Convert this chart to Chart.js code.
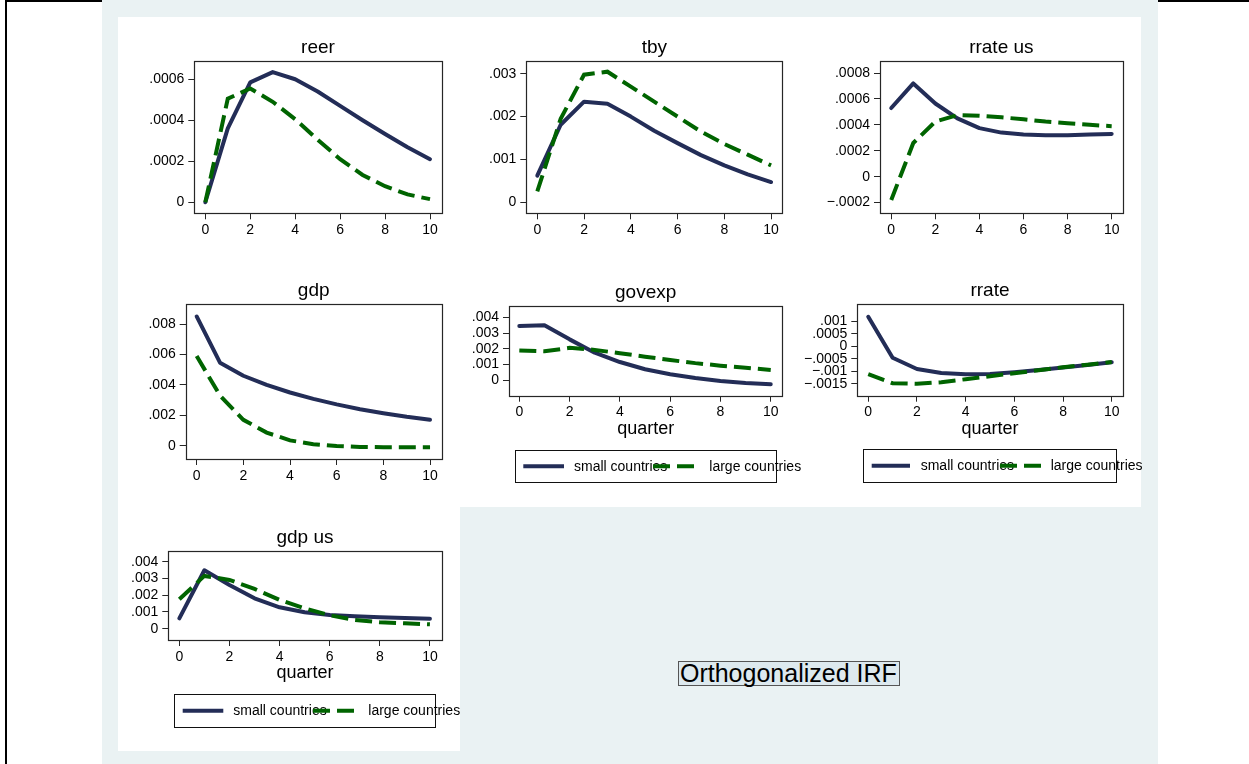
<!DOCTYPE html>
<html>
<head>
<meta charset="utf-8">
<script src="https://cdn.jsdelivr.net/npm/chart.js@4/dist/chart.umd.min.js"></script>
<style>
  html, body { margin: 0; padding: 0; background: #ffffff; }
  #root { position: relative; width: 1249px; height: 764px; overflow: hidden; background: #ffffff;
          font-family: "Liberation Sans", Arial, Helvetica, sans-serif; }
  .abs { position: absolute; }
  #note { position: absolute; left: 678px; top: 661px; width: 222px; height: 25px; box-sizing: border-box;
          border: 1px solid #555; background: #dde9ee; color: #000; font-size: 25px; line-height: 23px;
          padding-left: 1px; white-space: nowrap; }
</style>
</head>
<body>
<div id="root">
  <div class="abs" style="left:5px;top:0;width:1300px;height:800px;border-left:2px solid #000;border-top:2px solid #000;"></div>
  <div class="abs" style="left:102px;top:0;width:1056px;height:764px;background:#eaf2f3;"></div>
  <div class="abs" style="left:118px;top:17px;width:1023px;height:490px;background:#ffffff;"></div>
  <div class="abs" style="left:118px;top:507px;width:342px;height:244px;background:#ffffff;"></div>
  <div id="note"></div>
</div>
<script>
// ---------------- data ----------------
const quarters = [0, 1, 2, 3, 4, 5, 6, 7, 8, 9, 10];
const seriesNames = ['small countries', 'large countries'];
const panelTitles = ['reer', 'tby', 'rrate us', 'gdp', 'govexp', 'rrate', 'gdp us'];
const xAxisTitle = 'quarter';
const noteText = 'Orthogonalized IRF';

const xTickValues = [0, 2, 4, 6, 8, 10];
const xTickLabels = ['0', '2', '4', '6', '8', '10'];

const reerSmall = [0, 0.00036, 0.000585, 0.000635, 0.0006, 0.00054, 0.00047, 0.0004, 0.000333, 0.000268, 0.00021];
const reerLarge = [0, 0.000505, 0.000555, 0.00049, 0.000405, 0.000305, 0.00021, 0.000133, 0.000078, 0.000038, 0.000015];
const reerTicks = [0, 0.0002, 0.0004, 0.0006];
const reerTickLabels = ['0', '.0002', '.0004', '.0006'];

const tbySmall = [0.00062, 0.00181, 0.00235, 0.0023, 0.002, 0.00167, 0.00138, 0.0011, 0.00086, 0.00065, 0.00047];
const tbyLarge = [0.00025, 0.00195, 0.00298, 0.00305, 0.0027, 0.00235, 0.002, 0.00165, 0.00136, 0.00111, 0.00086];
const tbyTicks = [0, 0.001, 0.002, 0.003];
const tbyTickLabels = ['0', '.001', '.002', '.003'];

const rrateUsSmall = [0.00053, 0.00072, 0.000565, 0.00045, 0.000375, 0.00034, 0.000325, 0.00032, 0.00032, 0.000325, 0.00033];
const rrateUsLarge = [-0.00018, 0.00026, 0.000425, 0.000475, 0.00047, 0.000458, 0.000443, 0.000425, 0.000412, 0.0004, 0.00039];
const rrateUsTicks = [-0.0002, 0, 0.0002, 0.0004, 0.0006, 0.0008];
const rrateUsTickLabels = ['\u2212.0002', '0', '.0002', '.0004', '.0006', '.0008'];

const gdpSmall = [0.0085, 0.00546, 0.0046, 0.004, 0.0035, 0.00308, 0.00272, 0.0024, 0.00214, 0.0019, 0.0017];
const gdpLarge = [0.0059, 0.0033, 0.0017, 0.00086, 0.00035, 0.0001, -0.00002, -0.00008, -0.0001, -0.0001, -0.0001];
const gdpTicks = [0, 0.002, 0.004, 0.006, 0.008];
const gdpTickLabels = ['0', '.002', '.004', '.006', '.008'];

const govexpSmall = [0.00345, 0.0035, 0.0026, 0.00175, 0.00116, 0.0007, 0.00038, 0.00014, -0.00004, -0.00017, -0.00025];
const govexpLarge = [0.0019, 0.00184, 0.00206, 0.00193, 0.00172, 0.0015, 0.00129, 0.00109, 0.00093, 0.0008, 0.00066];
const govexpTicks = [0, 0.001, 0.002, 0.003, 0.004];
const govexpTickLabels = ['0', '.001', '.002', '.003', '.004'];

const rrateSmall = [0.00118, -0.00046, -0.00091, -0.00107, -0.00112, -0.00111, -0.00104, -0.00095, -0.00085, -0.00075, -0.00064];
const rrateLarge = [-0.00112, -0.00148, -0.0015, -0.00144, -0.00132, -0.0012, -0.00108, -0.00096, -0.00084, -0.00074, -0.00063];
const rrateTicks = [-0.0015, -0.001, -0.0005, 0, 0.0005, 0.001];
const rrateTickLabels = ['\u2212.0015', '\u2212.001', '\u2212.0005', '0', '.0005', '.001'];

const gdpUsSmall = [0.00062, 0.0035, 0.00262, 0.00182, 0.00128, 0.00098, 0.00082, 0.00074, 0.00068, 0.00064, 0.0006];
const gdpUsLarge = [0.00176, 0.00316, 0.00292, 0.00238, 0.00172, 0.00122, 0.0008, 0.00052, 0.00038, 0.00032, 0.00026];
const gdpUsTicks = [0, 0.001, 0.002, 0.003, 0.004];
const gdpUsTickLabels = ['0', '.001', '.002', '.003', '.004'];

// ---------------- styles / layout ----------------
const NAVY = '#232d57';
const GREEN = '#006400';
const FRAME = '#262626';
const FONT = '"Liberation Sans", Arial, Helvetica, sans-serif';
Chart.defaults.font.family = FONT;
Chart.defaults.color = '#000';

document.getElementById('note').textContent = noteText;

// cell: [x, y, w, h] ; box: plot region [l, t, r, b] in page coords
const layouts = [
  { cell: [118, 17, 341, 245], box: [194.3, 61, 441.7, 213.3], xr: [-0.49, 10.52], yr: [-0.000054, 0.000689] },
  { cell: [459, 17, 341, 245], box: [526.3, 61, 782.3, 213.3], xr: [-0.47, 10.48], yr: [-0.00026, 0.0033] },
  { cell: [800, 17, 341, 245], box: [880, 61, 1122.7, 213.3], xr: [-0.51, 10.5], yr: [-0.000283, 0.000893] },
  { cell: [118, 262, 341, 245], box: [185.7, 304.3, 441.7, 459], xr: [-0.47, 10.5], yr: [-0.000875, 0.0093] },
  { cell: [459, 262, 341, 245], box: [509, 306, 782.3, 395.7], xr: [-0.41, 10.46], yr: [-0.00098, 0.00472],
    xTitle: true, legend: { rect: [515, 450, 260.7, 32.3], s1: [523.3, 564], t1: 574, s2: [653, 697], t2: 709.3 } },
  { cell: [800, 262, 341, 245], box: [857.3, 304.3, 1122.7, 395.7], xr: [-0.45, 10.45], yr: [-0.00198, 0.00168],
    xTitle: true, legend: { rect: [863.3, 449, 252.7, 33.3], s1: [871.7, 910], t1: 920.7, s2: [1000, 1043], t2: 1050.7 } },
  { cell: [118, 507, 341, 244], box: [168.3, 550.7, 441.7, 640], xr: [-0.44, 10.47], yr: [-0.00068, 0.00467],
    xTitle: true, legend: { rect: [174.3, 694.3, 260.7, 33], s1: [182.7, 223.3], t1: 233.3, s2: [313, 356], t2: 368.3 } }
];

const panelSeries = [
  [reerSmall, reerLarge, reerTicks, reerTickLabels],
  [tbySmall, tbyLarge, tbyTicks, tbyTickLabels],
  [rrateUsSmall, rrateUsLarge, rrateUsTicks, rrateUsTickLabels],
  [gdpSmall, gdpLarge, gdpTicks, gdpTickLabels],
  [govexpSmall, govexpLarge, govexpTicks, govexpTickLabels],
  [rrateSmall, rrateLarge, rrateTicks, rrateTickLabels],
  [gdpUsSmall, gdpUsLarge, gdpUsTicks, gdpUsTickLabels]
];

const stataDecor = {
  id: 'stataDecor',
  afterDraw(chart, args, opts) {
    const ctx = chart.ctx;
    const a = chart.chartArea;
    ctx.save();
    // plot region frame
    ctx.strokeStyle = FRAME;
    ctx.lineWidth = 1.2;
    ctx.strokeRect(Math.round(a.left) + 0.5, Math.round(a.top) + 0.5,
                   Math.round(a.right) - Math.round(a.left), Math.round(a.bottom) - Math.round(a.top));
    // title
    const cxm = (a.left + a.right) / 2;
    ctx.fillStyle = '#000';
    ctx.textAlign = 'center';
    ctx.textBaseline = 'alphabetic';
    ctx.font = '19px ' + FONT;
    ctx.fillText(opts.title, cxm, a.top - 8);
    // x axis title
    if (opts.xTitle) {
      ctx.font = '18px ' + FONT;
      ctx.fillText(opts.xTitle, cxm, a.bottom + 38);
    }
    // legend
    const lg = opts.legend;
    if (lg) {
      const ox = opts.origin[0], oy = opts.origin[1];
      const [lx, ly, lw, lh] = lg.rect;
      ctx.fillStyle = '#ffffff';
      ctx.fillRect(lx - ox, ly - oy, lw, lh);
      ctx.strokeStyle = '#111';
      ctx.lineWidth = 1;
      ctx.strokeRect(Math.round(lx - ox) + 0.5, Math.round(ly - oy) + 0.5, Math.round(lw), Math.round(lh));
      const cy = ly - oy + lh / 2;
      const ds = chart.data.datasets;
      const items = [[lg.s1, lg.t1, ds[0]], [lg.s2, lg.t2, ds[1]]];
      ctx.font = '14px ' + FONT;
      ctx.textAlign = 'left';
      ctx.textBaseline = 'middle';
      items.forEach(([s, t, d]) => {
        ctx.beginPath();
        ctx.strokeStyle = d.borderColor;
        ctx.lineWidth = d.borderWidth;
        ctx.lineCap = 'butt';
        ctx.setLineDash(d.borderDash || []);
        ctx.moveTo(s[0] - ox, cy);
        ctx.lineTo(s[1] - ox, cy);
        ctx.stroke();
        ctx.setLineDash([]);
        ctx.fillStyle = '#000';
        ctx.fillText(d.label, t - ox, cy + 0.5);
      });
    }
    ctx.restore();
  }
};

const root = document.getElementById('root');

panelTitles.forEach((title, k) => {
  const L = layouts[k];
  const [small, large, yTicks, yLabels] = panelSeries[k];
  const [cx, cy, cw, ch] = L.cell;
  const [bl, bt, br, bb] = L.box;
  const W = cw + 30, H = ch;
  const canvas = document.createElement('canvas');
  canvas.width = W; canvas.height = H;
  canvas.style.cssText = `position:absolute;left:${cx}px;top:${cy}px;width:${W}px;height:${H}px;`;
  root.appendChild(canvas);

  new Chart(canvas, {
    type: 'line',
    data: {
      datasets: [
        { label: seriesNames[0], data: quarters.map((q, i) => ({ x: q, y: small[i] })),
          borderColor: NAVY, backgroundColor: NAVY, borderWidth: 4, pointRadius: 0, tension: 0,
          borderJoinStyle: 'round', borderCapStyle: 'round', order: 2, fill: false },
        { label: seriesNames[1], data: quarters.map((q, i) => ({ x: q, y: large[i] })),
          borderColor: GREEN, backgroundColor: GREEN, borderWidth: 4, pointRadius: 0, tension: 0,
          borderDash: [17, 7], borderJoinStyle: 'miter', borderCapStyle: 'butt', order: 1, fill: false }
      ]
    },
    options: {
      responsive: false, animation: false, devicePixelRatio: 1, events: [],
      layout: { padding: { left: 0, top: bt - cy, right: (cx + W) - br, bottom: 0 } },
      plugins: {
        legend: { display: false }, tooltip: { enabled: false }, title: { display: false },
        stataDecor: { title: title, xTitle: L.xTitle ? xAxisTitle : null, legend: L.legend || null, origin: [cx, cy] }
      },
      scales: {
        x: {
          type: 'linear', position: 'bottom', min: L.xr[0], max: L.xr[1],
          afterBuildTicks: s => { s.ticks = xTickValues.map(v => ({ value: v })); },
          afterFit: s => { s.height = (cy + ch) - bb; },
          ticks: { autoSkip: false, maxRotation: 0, minRotation: 0, padding: 2.5, color: '#000',
                   font: { size: 14 }, callback: (v, i) => xTickLabels[i] },
          grid: { drawOnChartArea: false, drawTicks: true, tickLength: 6, color: FRAME, lineWidth: 1 },
          border: { display: false }
        },
        y: {
          type: 'linear', position: 'left', min: L.yr[0], max: L.yr[1],
          afterBuildTicks: s => { s.ticks = yTicks.map(v => ({ value: v })); },
          afterFit: s => { s.width = bl - cx; },
          ticks: { autoSkip: false, padding: 4, color: '#000', font: { size: 14 },
                   callback: (v, i) => yLabels[i] },
          grid: { drawOnChartArea: false, drawTicks: true, tickLength: 6, color: FRAME, lineWidth: 1 },
          border: { display: false }
        }
      }
    },
    plugins: [stataDecor]
  });
});
</script>
</body>
</html>
